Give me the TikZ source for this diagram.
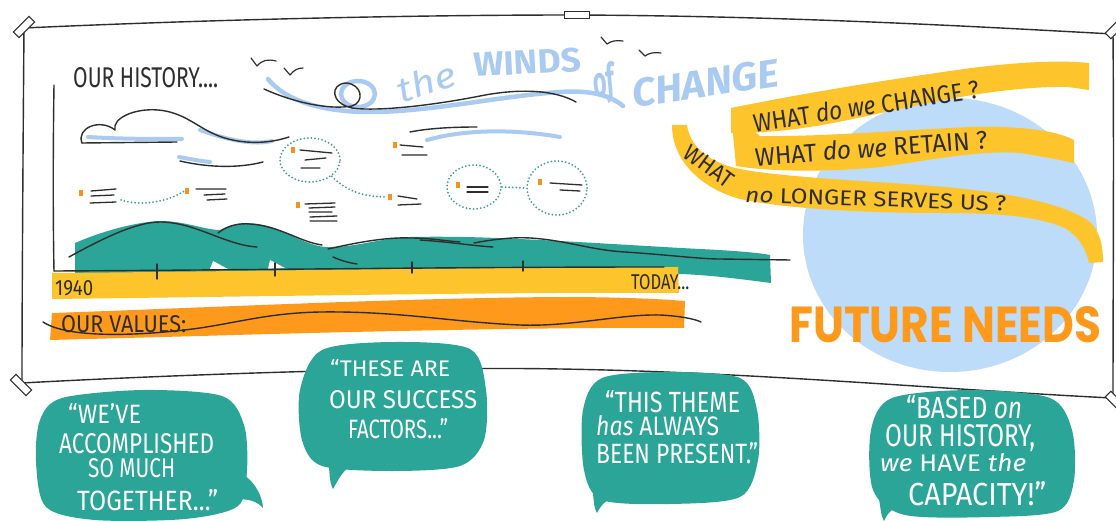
\documentclass[tikz,border=0pt]{standalone}
\usepackage{fontspec}
\usepackage{graphicx}
\setmainfont{Fira Sans}
\newfontfamily\posterfont{Poppins}
\usetikzlibrary{shapes.geometric}
\newcommand\boxfit[3]{\resizebox{#1pt}{#2pt}{#3}}

\definecolor{ink}{HTML}{2E2E2E}
\definecolor{boardteal}{HTML}{2BA597}
\definecolor{dotteal}{HTML}{3AA395}
\definecolor{sun}{HTML}{FDC42C}
\definecolor{amber}{HTML}{FE991C}
\definecolor{sky}{HTML}{BCDCFA}
\definecolor{windblue}{HTML}{A9CBF2}
\definecolor{dotorange}{HTML}{F7931D}

\tikzset{
  inkline/.style={draw=ink, line width=1.4pt, line cap=round, line join=round},
  noteline/.style={draw=ink, line width=1.3pt, line cap=round},
  dotring/.style={ellipse, draw=dotteal, line width=2pt, dash pattern=on 0pt off 3.6pt, line cap=round, inner sep=0pt},
  dotlink/.style={draw=dotteal, line width=2pt, dash pattern=on 0pt off 3.6pt, line cap=round},
  sq/.style={fill=dotorange, minimum width=4.5pt, minimum height=6.5pt, inner sep=0pt},
  bubble/.style={fill=boardteal},
  tape/.style={draw=ink, fill=white, line width=1pt},
  windstroke/.style={draw=windblue, line width=4.5pt, line cap=round},
  inktext/.style={text=ink, inner sep=0pt},
  saytext/.style={text=white, inner sep=0pt},
  windtext/.style={text=windblue, inner sep=0pt},
}

\begin{document}
\begin{tikzpicture}[x=1pt,y=-1pt]
\useasboundingbox (0,0) rectangle (1116,521);
\fill[white] (0,0) rectangle (1116,521);

% ---------- board frame ----------
\draw[inkline] (24,28) .. controls (200,20) and (400,15) .. (575,15)
               .. controls (800,16) and (1000,28) .. (1113,34);
\draw[inkline] (24,28) .. controls (23,150) and (22,300) .. (22,383);
\draw[inkline] (22,383) .. controls (150,376) and (400,366) .. (560,369)
               .. controls (750,372) and (950,390) .. (1112,398);
\draw[inkline] (1113,34) .. controls (1114,150) and (1113,300) .. (1113,398);
\draw[tape, rotate around={45:(24,27)}] (13,23) rectangle (35,31);
\draw[tape] (564,12) rectangle (589,19);
\draw[tape, rotate around={-45:(21,385)}] (10,381) rectangle (32,389);
\draw[tape, rotate around={45:(1113,31)}] (1106,27) rectangle (1122,35);
\draw[tape, rotate around={-45:(1113,399)}] (1106,395) rectangle (1122,403);

% ---------- title and sky ----------
\node[inktext, anchor=base west] (hist) at (73,88) {\boxfit{145}{20}{OUR HISTORY....}};

\draw[inkline, line width=1.2pt] (251,58) .. controls (254,62) .. (257,66) .. controls (262,60) and (268,59) .. (276,61);
\draw[inkline, line width=1.2pt] (284,68) .. controls (287,71) .. (290,75) .. controls (294,70) and (298,68) .. (303,68);
\draw[inkline, line width=1.2pt] (601,37) .. controls (604,41) .. (607,44) .. controls (611,41) and (616,40) .. (623,41);
\draw[inkline, line width=1.2pt] (639,50) .. controls (642,53) .. (645,56) .. controls (649,53) and (654,52) .. (661,53);

\draw[windstroke] (268,79) .. controls (285,100) and (320,112) .. (370,112)
                  .. controls (430,112) and (500,96) .. (560,92) .. controls (590,90) and (610,95) .. (623,106);
\draw[windstroke] (358,94) ellipse [x radius=17, y radius=13];
\draw[inkline] (264,89) .. controls (295,103) and (330,110) .. (352,106)
               .. controls (365,102) and (362,84) .. (346,83)
               .. controls (330,84) and (330,103) .. (352,108)
               .. controls (380,112) and (440,104) .. (480,96)
               .. controls (520,88) and (555,90) .. (576,102);

\node[windtext, rotate=18] (wthe) at (426,82) {\boxfit{60}{26}{\itshape the}};
\node[windtext, anchor=base west, rotate=3] (wwinds) at (474,77) {\boxfit{108}{24}{\bfseries WINDS}};
\node[windtext, rotate=10] (wof) at (604,84) {\boxfit{22}{32}{\bfseries\itshape of}};
\node[windtext, anchor=base west, rotate=8.6] (wchange) at (634,108) {\boxfit{148}{28}{\bfseries\itshape CHANGE}};

% clouds and wind strokes
\draw[windstroke, line width=4pt] (88,137) .. controls (120,139) and (150,139) .. (182,139);
\draw[windstroke, line width=4pt] (200,130) .. controls (230,141) and (255,145) .. (272,141);
\draw[inkline] (82,143) .. controls (76,128) and (100,118) .. (115,130)
               .. controls (112,118) and (135,108) .. (158,110)
               .. controls (182,112) and (195,125) .. (212,133)
               .. controls (232,143) and (262,146) .. (289,137);
\draw[inkline] (82,143) -- (177,142);
\draw[windstroke, line width=4pt] (179,157) .. controls (190,159) and (200,161) .. (210,162);
\draw[inkline] (180,161) .. controls (210,168) and (240,168) .. (263,162);
\draw[windstroke, line width=4pt] (427,140) .. controls (470,128) and (520,130) .. (560,137);
\draw[inkline] (410,132) .. controls (430,128) and (455,127) .. (477,127);

% ---------- notes and links ----------
\node[dotring, minimum width=60pt, minimum height=44pt] (c1) at (310,160) {};
\node[dotring, minimum width=54pt, minimum height=44pt] (c2) at (474,187) {};
\node[dotring, minimum width=60pt, minimum height=54pt] (c3) at (557,188) {};

\node[sq] (s1) at (81,193) {};
\node[sq] (s2) at (187,191) {};
\node[sq] (s3) at (293,150) {};
\node[sq] (s4) at (395,145) {};
\node[sq] (s5) at (390,197) {};
\node[sq] (s6) at (298,205) {};
\node[sq] (s7) at (458,185) {};
\node[sq] (s8) at (540,182) {};

\draw[noteline] (91,191) -- (116,189) (91,196) -- (114,195) (90,203) -- (116,202);
\draw[noteline] (196,189) -- (226,189) (204,195) -- (225,194) (207,200) -- (227,199);
\draw[noteline] (300,150) -- (332,153) (305,160) -- (326,158) (301,168) -- (320,168);
\draw[noteline] (400,145) -- (423,147) (402,155) -- (427,155);
\draw[noteline] (398,196) -- (417,199) (398,205) -- (421,204);
\draw[noteline] (305,204) -- (335,203) (309,208) -- (335,207) (309,212) -- (332,212)
                (310,217) -- (337,216) (310,221) -- (337,221);
\draw[noteline] (467,187) -- (488,187) (467,192) -- (488,192);
\draw[noteline] (550,183) -- (582,185) (560,190) -- (580,191);

\coordinate (l1end) at (121,200);
\draw[dotlink] (l1end) .. controls (140,206) and (165,203) .. (s2.west);
\draw[dotlink] (c1.south east) .. controls (345,190) and (362,197) .. (s5.west);
\draw[dotlink] (c2.east) -- (c3.west);

% ---------- hills, timeline and values ----------
\fill[boardteal] (75,243) .. controls (100,232) and (135,222) .. (160,221)
   .. controls (185,221) and (205,230) .. (220,230)
   .. controls (232,224) and (245,222) .. (258,224)
   .. controls (285,228) and (300,244) .. (325,247)
   .. controls (355,248) and (380,238) .. (410,237)
   .. controls (460,236) and (500,238) .. (540,240)
   .. controls (600,243) and (660,247) .. (700,249)
   .. controls (740,251) and (760,253) .. (770,255)
   -- (771,283) .. controls (740,279) and (710,275) .. (680,274) -- (75,276) -- cycle;
\fill[white] (210,269) -- (213,261) -- (228,269) -- cycle;
\fill[white] (268,269) -- (270,260) -- (285,268) -- cycle;

\fill[sun] (52,273) .. controls (200,272) and (400,268) .. (678,267)
   -- (679,293) .. controls (500,292) and (300,296) .. (52,299) -- cycle;
\fill[amber] (52,313) .. controls (200,308) and (400,298) .. (560,297)
   .. controls (620,297) and (660,299) .. (685,301)
   -- (684,328) .. controls (600,327) and (400,330) .. (200,336) -- (50,340) -- cycle;

\draw[inkline] (69,257) .. controls (100,240) and (135,222) .. (160,222)
               .. controls (195,222) and (225,245) .. (257,247);
\draw[inkline] (218,233) .. controls (228,225) and (240,223) .. (250,224)
               .. controls (280,226) and (300,242) .. (322,245);
\draw[inkline] (328,249) .. controls (355,243) and (385,237) .. (410,238)
               .. controls (430,238) and (445,241) .. (460,242);
\draw[inkline] (333,257) .. controls (342,261) and (350,263) .. (357,264);
\draw[inkline] (420,240) .. controls (450,242) and (475,246) .. (493,247);
\draw[inkline] (474,243) .. controls (495,239) and (515,237) .. (530,238)
               .. controls (565,240) and (590,250) .. (625,252)
               .. controls (670,255) and (700,259) .. (720,259) -- (790,260);

\draw[inkline] (54,85) .. controls (53,150) and (53,220) .. (54,271);
\draw[inkline] (54,271) .. controls (250,270) and (450,267) .. (664,267);
\draw[inkline] (157,264) -- (157,279);
\draw[inkline] (275,263) -- (275,276);
\draw[inkline] (412,262) -- (412,273);
\draw[inkline] (523,261) -- (523,271);

\draw[inkline] (43,322) .. controls (70,340) and (150,335) .. (200,328)
               .. controls (240,322) and (270,313) .. (320,312)
               .. controls (400,311) and (450,322) .. (520,325)
               .. controls (570,327) and (620,314) .. (660,315)
               .. controls (680,316) and (695,319) .. (701,322);

\node[inktext, anchor=base west] (y1940) at (55,295) {\boxfit{38}{15}{1940}};
\node[inktext, anchor=base west] (today) at (631,290) {\boxfit{58}{15}{TODAY...}};
\node[inktext, anchor=base west] (values) at (61,332) {\boxfit{125}{17}{OUR VALUES:}};

% ---------- future side ----------
\fill[sky] (950,235) ellipse [x radius=147, y radius=137];

\fill[sun] (731,112) -- (760,136) .. controls (820,137) and (900,130) .. (971,127)
   .. controls (1020,126) and (1055,130) .. (1074,140) -- (1074,163)
   .. controls (1060,160) and (1040,156) .. (1020,153)
   .. controls (980,150) and (930,160) .. (881,167)
   .. controls (830,172) and (770,172) .. (736,166) -- cycle;
\fill[sun] (731,108) .. controls (820,90) and (900,78) .. (971,68)
   .. controls (1020,62) and (1060,60) .. (1089,63) -- (1089,90)
   .. controls (1075,88) and (1065,86) .. (1055,87)
   .. controls (1000,88) and (940,100) .. (881,113)
   .. controls (830,124) and (790,133) .. (731,133) -- cycle;
\fill[sun] (672,125) -- (687,125) .. controls (690,145) and (705,160) .. (735,168)
   .. controls (770,176) and (850,180) .. (920,185)
   .. controls (990,190) and (1060,200) .. (1090,222)
   .. controls (1100,232) and (1103,245) .. (1103,262) -- (1089,263)
   .. controls (1085,245) and (1075,232) .. (1060,226)
   .. controls (1030,215) and (990,213) .. (940,213)
   .. controls (860,213) and (780,208) .. (740,199)
   .. controls (700,188) and (672,160) .. (672,125) -- cycle;

\node[inktext, rotate=8.5] (qchange) at (866,106) {\boxfit{228}{19}{WHAT \itshape do we \upshape CHANGE ?}};
\node[inktext, rotate=4.3] (qretain) at (871,148) {\boxfit{233}{19}{WHAT \itshape do we \upshape RETAIN ?}};
\node[inktext, rotate=-36] (qwhat) at (709,166) {\boxfit{56}{16}{WHAT}};
\node[inktext, anchor=base west, rotate=-2] (qserve) at (745,202) {\boxfit{261}{15}{\itshape no \upshape LONGER SERVES US ?}};

\node[text=amber, inner sep=0pt, anchor=base west] (future) at (789,342) {\boxfit{312}{36}{\posterfont\bfseries FUTURE NEEDS}};

% ---------- speech bubbles ----------
\fill[bubble] plot[smooth cycle] coordinates {(62,398) (143,390) (222,396) (244,425) (247,470) (238,506) (185,519) (95,520) (46,507) (36,462) (40,420)};
\fill[bubble] (232,470) .. controls (250,474) and (262,492) .. (263,508) .. controls (256,500) and (245,498) .. (232,500) -- cycle;

\fill[bubble] plot[smooth cycle] coordinates {(322,350) (395,342) (470,349) (486,390) (484,440) (460,466) (392,471) (322,466) (302,440) (300,390)};
\fill[bubble] (328,458) .. controls (330,472) and (329,482) .. (333,489) .. controls (338,480) and (343,470) .. (352,465) -- cycle;

\fill[bubble] plot[smooth cycle] coordinates {(602,378) (670,372) (740,378) (757,410) (758,460) (740,497) (670,504) (602,500) (584,470) (583,410)};
\fill[bubble] (592,485) .. controls (594,498) and (593,506) .. (597,513) .. controls (601,505) and (606,500) .. (614,497) -- cycle;

\fill[bubble] plot[smooth cycle] coordinates {(892,398) (971,390) (1050,398) (1072,430) (1074,480) (1058,511) (990,517) (905,515) (873,490) (871,430)};
\fill[bubble] (878,495) .. controls (881,506) and (880,514) .. (884,521) .. controls (888,512) and (893,508) .. (900,506) -- cycle;

\node[saytext, anchor=base west] (b1a) at (68,423) {\boxfit{73}{20}{“WE’VE}};
\node[saytext, anchor=base west] (b1b) at (59,453) {\boxfit{155}{20}{ACCOMPLISHED}};
\node[saytext, anchor=base west] (b1c) at (88,477) {\boxfit{87}{19}{SO MUCH}};
\node[saytext, anchor=base west] (b1d) at (77,510) {\boxfit{141}{21}{TOGETHER...”}};

\node[saytext, anchor=base west] (b2a) at (330,376) {\boxfit{120}{17}{“THESE ARE}};
\node[saytext, anchor=base west] (b2b) at (329,408) {\boxfit{148}{18}{OUR SUCCESS}};
\node[saytext, anchor=base west] (b2c) at (348,438) {\boxfit{100}{20}{FACTORS...”}};

\node[saytext, anchor=base west] (b3a) at (605,412) {\boxfit{135}{22}{“THIS THEME}};
\node[saytext, anchor=base west] (b3b) at (596,435) {\boxfit{123}{20}{\itshape has \upshape ALWAYS}};
\node[saytext, anchor=base west] (b3c) at (596,463) {\boxfit{162}{21}{BEEN PRESENT.”}};

\node[saytext, anchor=base west] (b4a) at (906,418) {\boxfit{116}{23}{“BASED \itshape on}};
\node[saytext, anchor=base west] (b4b) at (885,446) {\boxfit{150}{22}{OUR HISTORY,}};
\node[saytext, anchor=base west] (b4c) at (880,471) {\boxfit{146}{18}{\itshape we \upshape HAVE \itshape the}};
\node[saytext, anchor=base west] (b4d) at (908,505) {\boxfit{138}{24}{CAPACITY!”}};
\end{tikzpicture}
\end{document}
